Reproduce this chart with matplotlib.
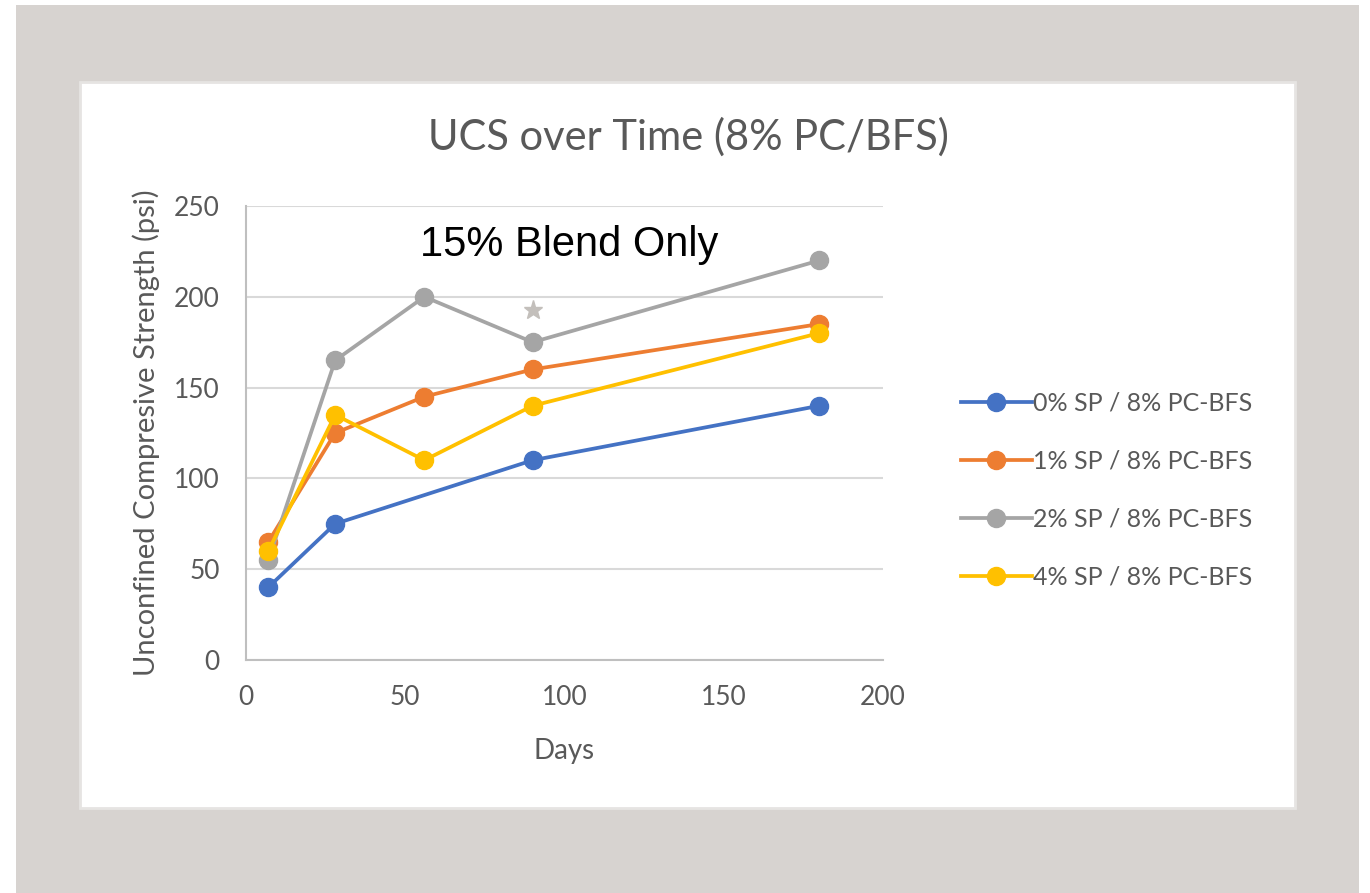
import matplotlib.pyplot as plt
from matplotlib.patches import Rectangle

# データ
days_blue = [7, 28, 90, 180]
ucs_0sp = [40, 75, 110, 140]
days = [7, 28, 56, 90, 180]
ucs_1sp = [65, 125, 145, 160, 185]
ucs_2sp = [55, 165, 200, 175, 220]
ucs_4sp = [60, 135, 110, 140, 180]
labels = ["0% SP / 8% PC-BFS", "1% SP / 8% PC-BFS", "2% SP / 8% PC-BFS", "4% SP / 8% PC-BFS"]
star_x, star_y = 90, 193

txt = "#595959"
plt.rcParams['font.family'] = ['Lato', 'DejaVu Sans']

fig = plt.figure(figsize=(13.7, 8.93), dpi=100)
fig.patches.append(Rectangle((16/1370, 0), (1359-16)/1370, 1-5/893, transform=fig.transFigure,
                             facecolor="#d7d3d0", edgecolor="none", zorder=-3))
fig.patches.append(Rectangle((80/1370, 1-808/893), (1295-80)/1370, (808-82)/893, transform=fig.transFigure,
                             facecolor="white", edgecolor="#e6e4e2", linewidth=2, zorder=-2))

ax = fig.add_axes([246/1370, 1-660/893, (883-246)/1370, (660-206)/893])
ax.set_facecolor("none")

ax.plot(days_blue, ucs_0sp, "-o", color="#4472C4", lw=2.7, ms=13, label=labels[0])
ax.plot(days, ucs_1sp, "-o", color="#ED7D31", lw=2.7, ms=13, label=labels[1])
ax.plot(days, ucs_2sp, "-o", color="#A5A5A5", lw=2.7, ms=13, label=labels[2])
ax.plot(days, ucs_4sp, "-o", color="#FFC000", lw=2.7, ms=13, label=labels[3])
ax.plot(star_x, star_y, marker="*", color="#c3bfbb", ms=14, ls="none")

ax.set_xlim(0, 200)
ax.set_ylim(0, 250)
ax.set_xticks(range(0, 201, 50))
ax.set_yticks(range(0, 251, 50))
ax.grid(axis="y", color="#d9d9d9", lw=1.5)
ax.set_axisbelow(True)
for s in ["top", "right"]:
    ax.spines[s].set_visible(False)
for s in ["left", "bottom"]:
    ax.spines[s].set_color("#bfbfbf")
    ax.spines[s].set_linewidth(1.5)
ax.tick_params(length=0, labelsize=19, labelcolor=txt)
ax.tick_params(axis="x", pad=18)
ax.tick_params(axis="y", pad=19)

ax.set_xlabel("Days", fontsize=20, color=txt, labelpad=20)
ax.set_ylabel("Unconfined Compresive Strength (psi)", fontsize=21, color=txt, labelpad=10)
fig.text(688/1370, 1-137/893, "UCS over Time (8% PC/BFS)", fontsize=30, color=txt,
         ha="center", va="center")
ax.text(101.5, 228.5, "15% Blend Only", fontsize=30, color="black", family="Liberation Sans",
        ha="center", va="center")

fig.legend(loc="center left", bbox_to_anchor=(938/1370, 1-490/893), frameon=False,
           fontsize=18, labelcolor=txt, handlelength=2.85, handletextpad=0.05, labelspacing=1.4)

plt.savefig("out.png", dpi=100)
